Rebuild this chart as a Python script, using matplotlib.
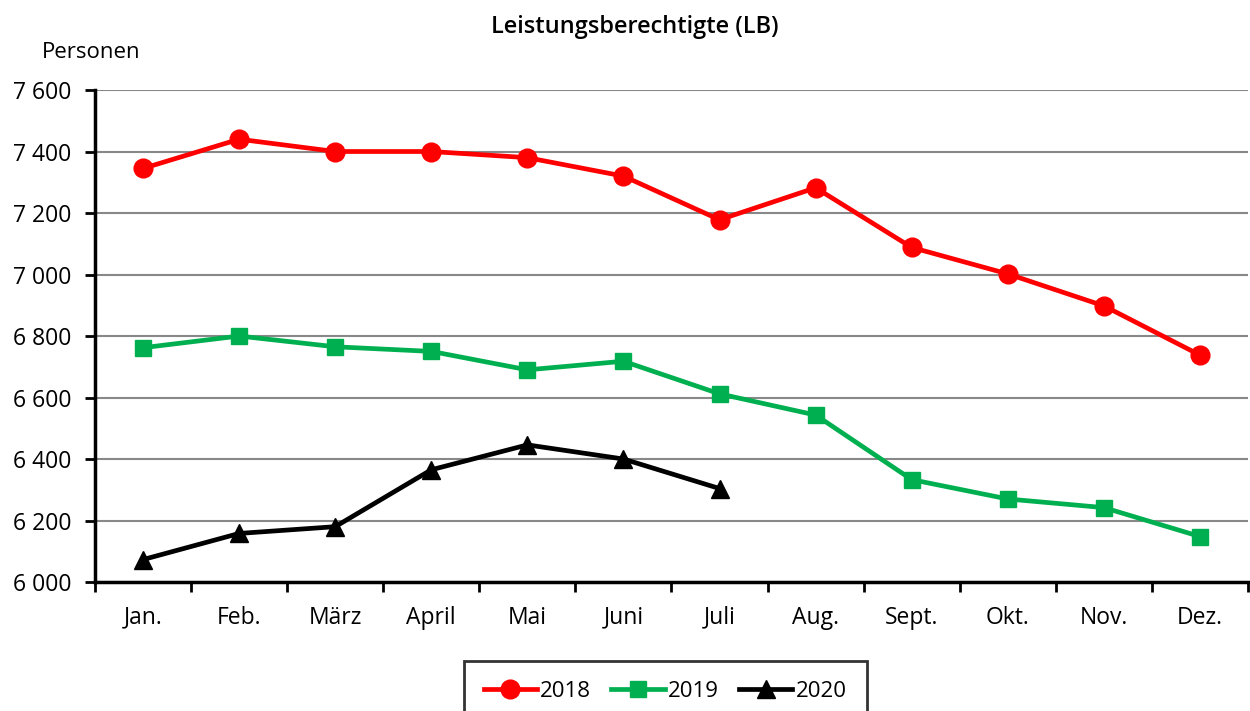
import numpy as np
import matplotlib
matplotlib.use("Agg")
from matplotlib import pyplot as plt

plt.rcParams['font.family'] = ['Open Sans', 'DejaVu Sans']

months = ["Jan.", "Feb.", "März", "April", "Mai", "Juni", "Juli",
          "Aug.", "Sept.", "Okt.", "Nov.", "Dez."]
lb_2018 = [7345, 7440, 7400, 7400, 7380, 7320, 7178, 7282, 7088, 7002, 6898, 6738]
lb_2019 = [6762, 6800, 6765, 6750, 6690, 6718, 6612, 6543, 6333, 6270, 6242, 6148]
lb_2020 = [6073, 6158, 6180, 6365, 6446, 6400, 6304]
yticks = [6000, 6200, 6400, 6600, 6800, 7000, 7200, 7400, 7600]

fig = plt.figure(figsize=(12.5, 7.11), dpi=100)
ax = fig.add_axes([0.076, 0.1814, 0.9224, 0.692])

x = np.arange(len(months))
ax.plot(x, lb_2018, color="#ff0000", lw=3.4, marker="o", ms=13.5, label="2018")
ax.plot(x, lb_2019, color="#00b050", lw=3.4, marker="s", ms=12, label="2019")
ax.plot(x[:len(lb_2020)], lb_2020, color="black", lw=3.4, marker="^", ms=13.5, label="2020")

ax.set_xlim(-0.5, 11.5)
ax.set_ylim(6000, 7600)
ax.set_yticks(yticks)
ax.set_yticklabels([f"{v:,}".replace(",", " ") for v in yticks], fontsize=16.5)
ax.set_xticks(x)
ax.set_xticklabels(months, fontsize=16.5)
ax.set_xticks(np.arange(-0.5, 12, 1), minor=True)
ax.tick_params(axis="x", which="major", length=0, pad=17)
ax.tick_params(axis="x", which="minor", length=7, width=2, direction="out")
ax.tick_params(axis="y", length=7, width=2, direction="out", pad=10)
ax.grid(axis="y", color="#888888", lw=1.5)
ax.set_axisbelow(True)
for s in ["top", "right"]:
    ax.spines[s].set_visible(False)
for s in ["left", "bottom"]:
    ax.spines[s].set_linewidth(2.5)

fig.text(0.508, 0.962, "Leistungsberechtigte (LB)", ha="center", va="center",
         fontsize=17, fontweight="semibold")
fig.text(0.073, 0.926, "Personen", ha="center", va="center", fontsize=16)

leg = fig.legend(loc="center", bbox_to_anchor=(0.532, 0.028), ncol=3, fontsize=16,
                 frameon=True, fancybox=False, edgecolor="black", handlelength=2.4,
                 handletextpad=0.15, columnspacing=0.9, borderpad=0.9)
leg.get_frame().set_linewidth(2)

fig.savefig("out.png", dpi=100)
